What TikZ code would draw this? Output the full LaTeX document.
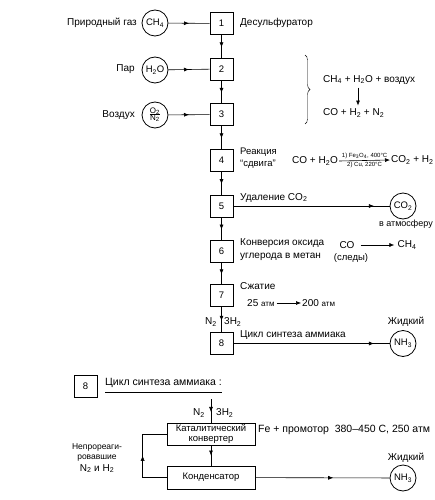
\documentclass[tikz,border=0pt]{standalone}
\usepackage{fontspec}
\setmainfont{Liberation Sans}
\usetikzlibrary{arrows.meta,decorations.markings,decorations.pathreplacing}

\begin{document}
\begin{tikzpicture}
[x=1pt,y=-1pt,
  stageDecorate/.style={shape=rectangle,draw,thick,minimum width=23pt,minimum height=22pt,inner sep=0pt,font=\fontsize{9.5}{10}\selectfont},
  wideDecorate/.style={shape=rectangle,draw,thick,minimum width=88pt,minimum height=22pt,inner sep=0pt,align=center,font=\fontsize{9.5}{10.5}\selectfont},
  gasDecorate/.style={shape=circle,draw,thick,minimum size=26pt,inner sep=0pt,font=\fontsize{9.5}{10}\selectfont},
  lineDecorate/.style={-,semithick},
  arrowDecorate/.style={semithick,-{Latex[length=5pt,width=4pt]}},
  tipAt/.style={postaction={decorate},decoration={markings,mark=at position #1 with {\arrow{Latex[length=5pt,width=4pt]}}}},
  labelDecorate/.style={inner sep=0pt,font=\fontsize{10}{11}\selectfont},
  smallDecorate/.style={inner sep=0pt,font=\fontsize{9.5}{10}\selectfont},
  formulaDecorate/.style={inner sep=0pt,font=\fontsize{10}{12}\selectfont}]
\useasboundingbox (0,0) rectangle (434,500);
%% stages
\foreach \nodename/\y in {
  1/23.5, 2/69, 3/114.5, 4/160, 5/206, 6/251, 7/295.5, 8/343.5}
{
  \node (s\nodename) at (221.5,\y) [stageDecorate] {\nodename};
}
%% gases
\node (ch4) at (155,23) [gasDecorate] {CH\textsubscript{4}};
\node (h2o) at (155,70) [gasDecorate] {H\textsubscript{2}O};
\node (air) at (155,115) [gasDecorate] {\fontsize{8}{8}\selectfont\def\arraystretch{0.85}%
  \begin{tabular}{@{}c@{}}O\textsubscript{2}\\[-1pt]\hline N\textsubscript{2}\end{tabular}};
\node (co2) at (403,206) [gasDecorate] {CO\textsubscript{2}};
\node (nh3) at (403,343.5) [gasDecorate] {NH\textsubscript{3}};
\node (nh3b) at (403,478) [gasDecorate] {NH\textsubscript{3}};
%% labels
\node (gasname) at (137,23) [labelDecorate,anchor=east] {Природный газ};
\node (steamname) at (135,69) [labelDecorate,anchor=east] {Пар};
\node (airname) at (135,115) [labelDecorate,anchor=east] {Воздух};
\node (s1name) at (240,23) [labelDecorate,anchor=west] {Десульфуратор};
\node (s4name) at (240,152) [smallDecorate,anchor=west] {Реакция};
\node (s4nameb) at (240,164) [smallDecorate,anchor=west] {“сдвига”};
\node (s5name) at (240,198) [labelDecorate,anchor=west] {Удаление CO\textsubscript{2}};
\node (co2note) at (433,224) [smallDecorate,anchor=east,font=\fontsize{9}{10}\selectfont] {в атмосферу};
\node (s6name) at (240,243) [labelDecorate,anchor=west] {Конверсия оксида};
\node (s6nameb) at (240,257) [labelDecorate,anchor=west] {углерода в метан};
\node (s7name) at (240,286) [labelDecorate,anchor=west] {Сжатие};
\node (s8name) at (240,335) [labelDecorate,anchor=west] {Цикл синтеза аммиака};
\node (n2feed) at (217,322) [labelDecorate,anchor=east] {N\textsubscript{2}};
\node (h2feed) at (224,322) [labelDecorate,anchor=west] {3H\textsubscript{2}};
\node (liquid) at (406,322) [labelDecorate] {Жидкий};
%% reactions
\coordinate (braceTop) at (305,55);
\coordinate (braceBot) at (305,124);
\draw[decorate,decoration={brace,amplitude=5pt}] (braceTop) -- (braceBot);
\node (reformIn) at (323,80) [formulaDecorate,anchor=west] {CH\textsubscript{4} + H\textsubscript{2}O + воздух};
\node (reformOut) at (323,113) [formulaDecorate,anchor=west] {CO + H\textsubscript{2} + N\textsubscript{2}};
\coordinate (reformX) at (358,0);
\draw[arrowDecorate] ([yshift=-3pt]reformIn.south -| reformX) -- ([yshift=3pt]reformOut.north -| reformX);
\node (shiftIn) at (292,161) [formulaDecorate,anchor=west] {CO + H\textsubscript{2}O};
\node (shiftOut) at (391,160) [formulaDecorate,anchor=west] {CO\textsubscript{2} + H\textsubscript{2}};
\draw[arrowDecorate] ([xshift=1pt]shiftIn.east) -- ([xshift=-1pt]shiftOut.west)
  node[midway,above=1.5pt,inner sep=0pt,font=\fontsize{6}{6}\selectfont] {1) Fe\textsubscript{3}O\textsubscript{4}, 400°C}
  node[midway,below=1.5pt,inner sep=0pt,font=\fontsize{6}{6}\selectfont] {2) Cu, 220°C};
\node (coTrace) at (347,245) [formulaDecorate] {CO};
\node (coTraceNote) at (351,258) [smallDecorate] {(следы)};
\node (ch4Trace) at (407,245) [formulaDecorate] {CH\textsubscript{4}};
\draw[arrowDecorate] ([xshift=6pt]coTrace.east) -- ([xshift=-3pt]ch4Trace.west);
\node (pLow) at (247,303) [formulaDecorate,anchor=west] {25 {\fontsize{8}{9}\selectfont атм}};
\node (pHigh) at (302,303) [formulaDecorate,anchor=west] {200 {\fontsize{8}{9}\selectfont атм}};
\draw[arrowDecorate] ([xshift=2pt]pLow.east) -- ([xshift=-1pt]pHigh.west);
%% edges or lines
\foreach \startnode/\endnode in {
  s1/s2, s2/s3, s3/s4, s4/s5, s5/s6, s6/s7, s7/s8}
{
  \draw[lineDecorate,tipAt=0.55] (\startnode) -- (\endnode);
}
\draw[lineDecorate,tipAt=0.5] (ch4) -- (s1);
\draw[lineDecorate,tipAt=0.5] (h2o) -- (s2);
\draw[lineDecorate,tipAt=0.5] (air) -- (s3);
\draw[lineDecorate,tipAt=0.9] (s5) -- (co2);
\draw[lineDecorate,tipAt=0.9] (s8) -- (nh3);
%% synthesis loop
\node (s8b) at (85.5,386.5) [stageDecorate] {8};
\node (loopTitle) at (105,383) [labelDecorate,anchor=west,font=\fontsize{10.5}{11}\selectfont] {Цикл синтеза аммиака :};
\draw[lineDecorate] ([yshift=-4pt]loopTitle.south west) -- ([yshift=-4pt]loopTitle.south east);
\coordinate (feedTop) at (211,399);
\node (cat) at (211,434) [wideDecorate] {Каталитический\\конвертер};
\node (cond) at (211,477.5) [wideDecorate,minimum height=23pt] {Конденсатор};
\node (loopN2) at (205,413) [labelDecorate,anchor=east] {N\textsubscript{2}};
\node (loopH2) at (216,413) [labelDecorate,anchor=west] {3H\textsubscript{2}};
\node (catNote) at (258,430) [labelDecorate,anchor=west,font=\fontsize{10.5}{11}\selectfont] {Fe + промотор\ \ 380–450 С, 250 атм};
\node (recycleNote) at (97,458) [smallDecorate,align=center,font=\fontsize{8.5}{10}\selectfont] {Непрореаги-\\ровавшие\\[2pt]{\fontsize{10}{11}\selectfont N\textsubscript{2} и H\textsubscript{2}}};
\node (liquidb) at (406,458) [labelDecorate] {Жидкий};
\draw[lineDecorate,tipAt=0.55] (feedTop) -- (cat);
\draw[lineDecorate,tipAt=0.5] (cat) -- (cond);
\draw[thin,tipAt=0.5] (cond.west) -- ++(-24,0) |- (cat.west);
\draw[lineDecorate,tipAt=0.58] (cond) -- (nh3b);
\end{tikzpicture}
\end{document}
